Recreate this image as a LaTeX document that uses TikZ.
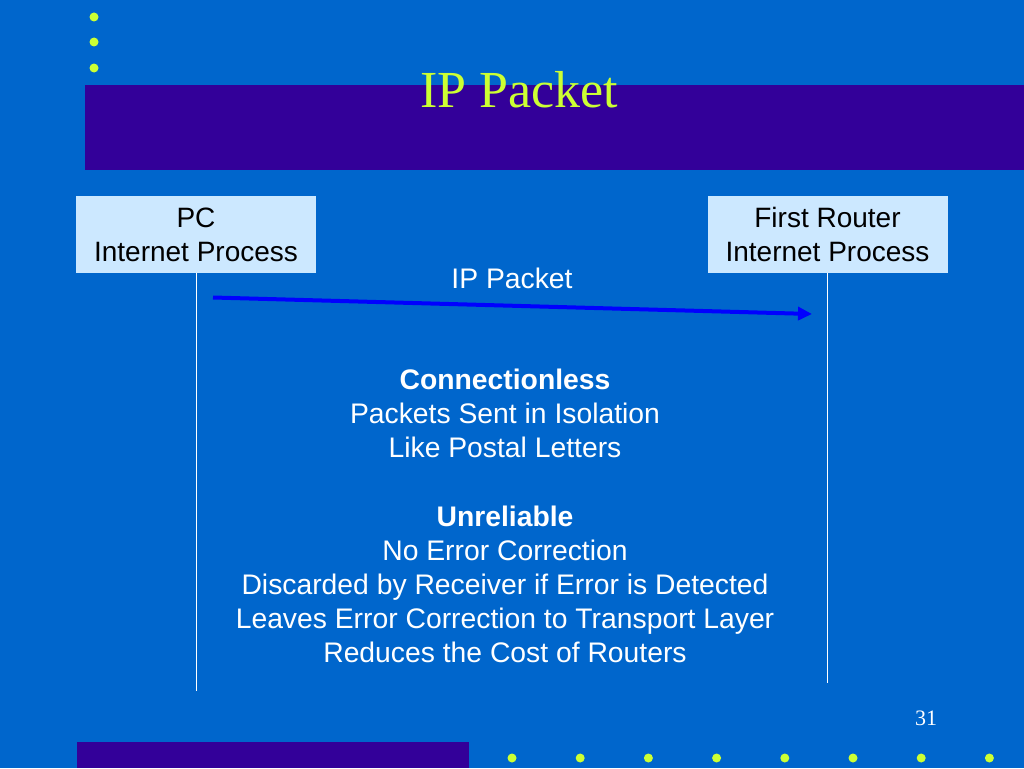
\documentclass[tikz,border=0pt]{standalone}
\usepackage{fontspec}
\setmainfont{Liberation Sans}
\newfontfamily\titlefont{Liberation Serif}
\usetikzlibrary{arrows.meta}

\definecolor{slideblue}{HTML}{0066CC}
\definecolor{bandpurple}{HTML}{330099}
\definecolor{boxblue}{HTML}{CCE8FF}
\definecolor{dotyellow}{HTML}{CCFF33}
\definecolor{pktblue}{HTML}{0000FF}

\tikzset{
  procbox/.style={fill=boxblue, minimum width=240pt, minimum height=77pt, inner sep=0pt,
    align=center, font=\fontsize{28}{34}\selectfont, text=black},
  bodytext/.style={anchor=base, inner sep=0pt, text=white, font=\fontsize{28.3}{34}\selectfont},
  lifeline/.style={draw=white, line width=1pt},
  pktarrow/.style={draw=pktblue, line width=4pt, -{Triangle[length=14pt, width=13pt]}},
}

\begin{document}
\begin{tikzpicture}[x=1pt, y=-1pt]
\useasboundingbox (0,0) rectangle (1024,768);
\fill[slideblue] (0,0) rectangle (1024,768);

% title band and dots
\fill[bandpurple] (85,85) rectangle (1024,170);
\fill[bandpurple] (77,742) rectangle (469,768);
\foreach \y in {17,42,68} \fill[dotyellow] (94,\y) circle (4.5);
\foreach \i in {0,...,7} \fill[dotyellow] (512+68.2*\i,758) circle (4.5);

\node[anchor=base, text=dotyellow, font=\titlefont\fontsize{52}{52}\selectfont] (title) at (519.5,107) {IP Packet};
\node[anchor=base, text=white, font=\titlefont\fontsize{22}{22}\selectfont] (pagenum) at (926,725) {31};

% the two processes
\node[procbox] (pc) at (196,234.5) {PC\\Internet Process};
\node[procbox] (router) at (827.5,234.5) {First Router\\Internet Process};

\coordinate (pcend) at (196,691);
\coordinate (routerend) at (827.5,683);
\draw[lifeline] (pc.south) -- (pcend);
\draw[lifeline] (router.south) -- (routerend);

% the packet
\coordinate (pktstart) at (213,297.5);
\coordinate (pktend) at (812,314);
\draw[pktarrow] (pktstart) -- (pktend);
\node[bodytext] (pktlabel) at (512,288) {IP Packet};

% properties
\foreach \y/\txt [count=\i] in {389/\textbf{Connectionless}, 423/Packets Sent in Isolation,
    457/Like Postal Letters, 526/\textbf{Unreliable}, 560/No Error Correction,
    594/Discarded by Receiver if Error is Detected, 628/Leaves Error Correction to Transport Layer,
    662/Reduces the Cost of Routers}
  \node[bodytext] (prop\i) at (505,\y) {\txt};
\end{tikzpicture}
\end{document}
